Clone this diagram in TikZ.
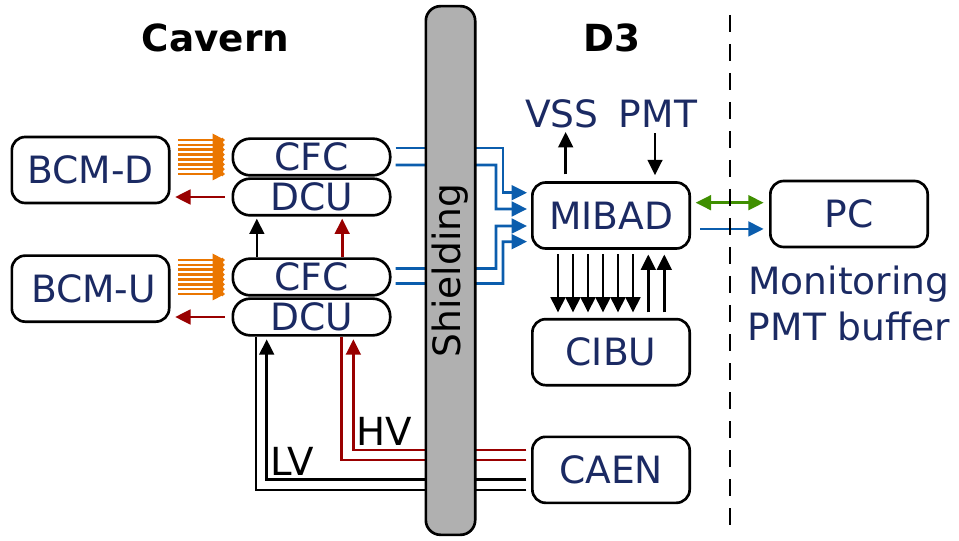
\documentclass[tikz,border=0pt]{standalone}
\usepackage{fontspec}
\setmainfont{DejaVu Sans}
\usetikzlibrary{arrows.meta,positioning}

\definecolor{labelnavy}{HTML}{1B2A63}
\definecolor{wirered}{HTML}{990000}
\definecolor{wireblue}{HTML}{0B5DAD}
\definecolor{wiregreen}{HTML}{3F8F00}
\definecolor{bundleorange}{HTML}{EA7600}

\begin{document}
\begin{tikzpicture}[
    x=0.75pt,
    y=-0.75pt,
    line width=2pt,
    every node/.style={font=\fontsize{28.2}{34.5}\selectfont, text=labelnavy},
    bigbox/.style={
        rectangle,
        rounded corners=10pt,
        draw=black,
        fill=white,
        minimum width=118pt,
        minimum height=49.5pt,
        inner sep=0pt
    },
    pillbox/.style={
        rectangle,
        rounded corners=13pt,
        draw=black,
        fill=white,
        minimum width=118pt,
        minimum height=27.5pt,
        inner sep=0pt
    },
    wall/.style={
        rectangle,
        rounded corners=11pt,
        draw=black,
        fill=black!31,
        text=black,
        rotate=90,
        minimum width=396.5pt,
        minimum height=37pt,
        inner sep=0pt
    },
    heading/.style={font=\fontsize{28}{33}\selectfont\bfseries, text=black},
    wirelabel/.style={font=\fontsize{29}{31}\selectfont, text=black},
    tip/.style={-{Triangle[length=11.5pt,width=11pt]}},
    blackwire/.style={tip, draw=black},
    redwire/.style={tip, draw=wirered},
    bluewire/.style={tip, draw=wireblue},
    bundle/.style={-{Triangle[length=2pt,width=3.6pt]}, draw=bundleorange, line width=1.9pt, shorten <=5.5pt, shorten >=5pt}
]
\useasboundingbox (0,0) rectangle (959,541);

\node[bigbox] (bcmd) at (90.5,170) {BCM-D};
\node[bigbox, below=37.5pt of bcmd] (bcmu) {\hspace{4.5pt}BCM-U};
\node[pillbox] (cfcd) at (311.5,157) {CFC};
\node[pillbox, below=0.5pt of cfcd] (dcud) {DCU};
\node[pillbox, below=30.5pt of dcud] (cfcu) {CFC};
\node[pillbox, below=0.5pt of cfcu] (dcuu) {DCU};

\node[bigbox] (mibad) at (611,215.5) {MIBAD};
\node[bigbox, below=51pt of mibad] (cibu) {CIBU};
\node[bigbox, below=36.75pt of cibu] (caen) {CAEN};
\node[bigbox] (pc) at (849,214) {PC};

\node (vss) at (562,114) {VSS};
\node (pmt) at (658,114) {PMT};
\node[align=center, below=9pt of pc] (monitor) {Monitoring\\PMT buffer};
\node[heading] (cavern) at (215.5,38) {Cavern};
\node[heading] (dthree) at (612,38) {D3};
\node[wirelabel] (hv) at (384,431) {HV};
\node[wirelabel] (lv) at (292,461) {LV};

% detector bundles
\foreach \dy in {-17,-12.1,-7.3,-2.4,2.4,7.3,12.1,17} {
    \draw[bundle] ([yshift=\dy*0.75pt]cfcd.west -| bcmd.east) -- ([yshift=\dy*0.75pt]cfcd.west);
    \draw[bundle] ([yshift=\dy*0.75pt]cfcu.west -| bcmu.east) -- ([yshift=\dy*0.75pt]cfcu.west);
}
\foreach \n in {cfcd,cfcu} {
    \fill[bundleorange] ([shift={(-19,-23.5)}]\n.west) -- ([shift={(-8.5,-18)}]\n.west) -- ([shift={(-8.5,18)}]\n.west) -- ([shift={(-19,23.5)}]\n.west) -- cycle;
}
\draw[redwire, shorten <=5pt, shorten >=3.5pt] (dcud.west) -- (dcud.west -| bcmd.east);
\draw[redwire, shorten <=5pt, shorten >=3.5pt] (dcuu.west) -- (dcuu.west -| bcmu.east);
\draw[blackwire, shorten >=1.5pt] ([xshift=-41pt]cfcu.north) -- ([xshift=-41pt]dcud.south);
\draw[redwire, shorten >=1.5pt] ([xshift=23pt]cfcu.north) -- ([xshift=23pt]dcud.south);

% signals through the shielding
\draw[bluewire, shorten <=3pt, shorten >=3pt] ([yshift=6.75pt]cfcd.east) -| (503,192.7) -- ([yshift=17.1pt]mibad.west);
\draw[bluewire, shorten <=3pt, shorten >=3pt] ([yshift=-6pt]cfcd.east) -| (496,209) -- ([yshift=4.9pt]mibad.west);
\draw[bluewire, shorten <=3pt, shorten >=3pt] ([yshift=6.4pt]cfcu.east) -| (496,226) -- ([yshift=-7.9pt]mibad.west);
\draw[bluewire, shorten <=3pt, shorten >=3pt] ([yshift=-4.9pt]cfcu.east) -| (503,241.7) -- ([yshift=-19.6pt]mibad.west);

% supply lines
\draw[redwire, shorten <=3.5pt, shorten >=2pt] ([yshift=15pt]caen.west) -| ([xshift=31.4pt]dcuu.south);
\draw[draw=wirered, shorten <=3.5pt] ([yshift=7.3pt]caen.west) -| ([xshift=22.7pt]dcuu.south);
\draw[blackwire, shorten <=3.5pt, shorten >=2pt] ([yshift=-7pt]caen.west) -| ([xshift=-33.6pt]dcuu.south);
\draw[draw=black, shorten <=3.5pt] ([yshift=-15.2pt]caen.west) -| ([xshift=-41.6pt]dcuu.south);

\node[wall] (shield) at (450.5,270.5) {\raisebox{-1.5pt}{Shielding}};

% D3 side
\draw[blackwire, shorten <=5pt, shorten >=-1.5pt] ([xshift=-34pt]mibad.north) -- ([xshift=-34pt]mibad.north |- vss.south);
\draw[blackwire, shorten >=4.5pt] ([xshift=33pt]mibad.north |- pmt.south) -- ([xshift=33pt]mibad.north);
\foreach \dx in {-53,-38,-23,-8,7,22} {
    \draw[blackwire, shorten <=3.5pt, shorten >=4pt] ([xshift=\dx*0.75pt]mibad.south) -- ([xshift=\dx*0.75pt]cibu.north);
}
\foreach \dx in {37.3,53.3} {
    \draw[blackwire, shorten <=4pt, shorten >=3.5pt] ([xshift=\dx*0.75pt]cibu.north) -- ([xshift=\dx*0.75pt]mibad.south);
}
\draw[{Triangle[length=11.5pt,width=11pt]}-{Triangle[length=11.5pt,width=11pt]}, draw=wiregreen, shorten <=3.5pt, shorten >=4pt] ([yshift=9.6pt]mibad.east) -- ([yshift=9.6pt]mibad.east -| pc.west);
\draw[bluewire, shorten <=7pt, shorten >=4pt] ([yshift=-10.1pt]mibad.east) -- ([yshift=-10.1pt]mibad.east -| pc.west);

\coordinate (splittop) at (730,15);
\coordinate (splitbot) at (730,526);
\draw[draw=black, dash pattern=on 12.75pt off 9pt] (splittop) -- (splitbot);

\end{tikzpicture}
\end{document}
